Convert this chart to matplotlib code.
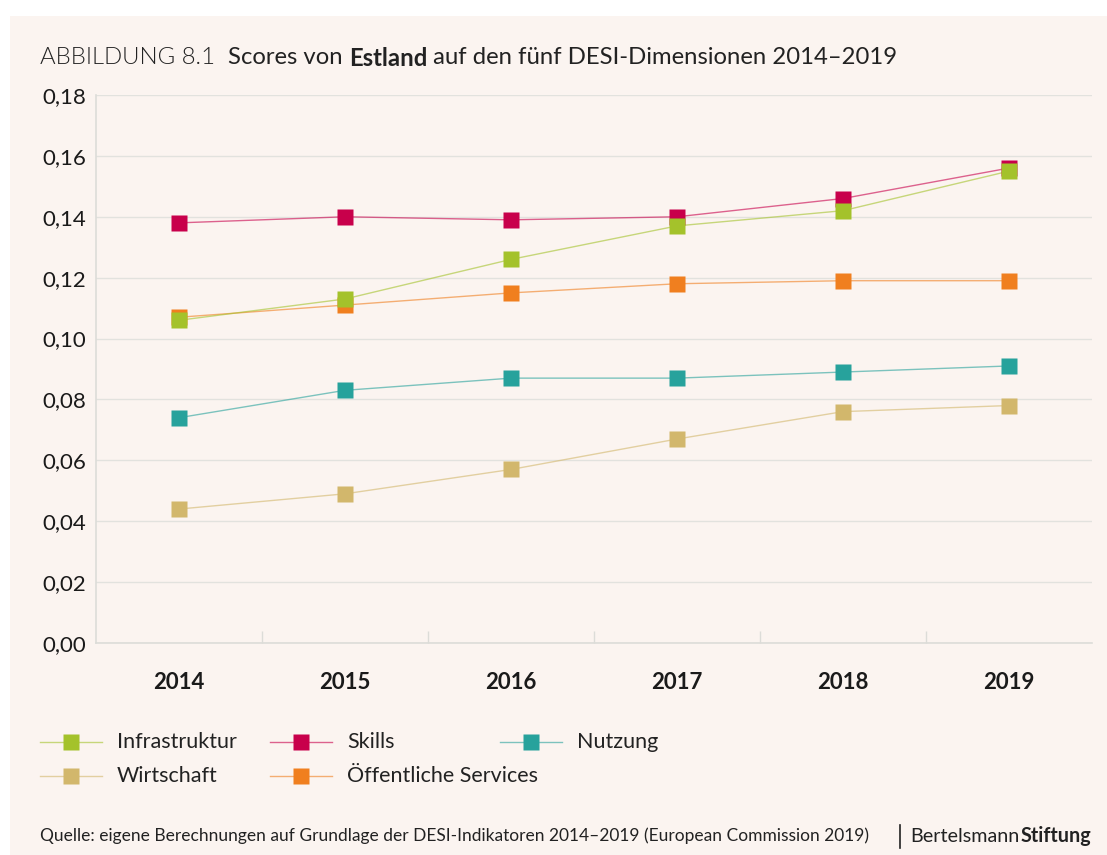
import matplotlib
matplotlib.use("Agg")
import matplotlib.pyplot as plt
from matplotlib.lines import Line2D
from matplotlib.patches import Rectangle
from matplotlib.ticker import FixedLocator, FuncFormatter

plt.rcParams['font.family'] = ['Lato', 'DejaVu Sans']

# data
years = ["2014", "2015", "2016", "2017", "2018", "2019"]
skills = [0.138, 0.140, 0.139, 0.140, 0.146, 0.156]
infrastruktur = [0.106, 0.113, 0.126, 0.137, 0.142, 0.155]
oeffentlich = [0.107, 0.111, 0.115, 0.118, 0.119, 0.119]
nutzung = [0.074, 0.083, 0.087, 0.087, 0.089, 0.091]
wirtschaft = [0.044, 0.049, 0.057, 0.067, 0.076, 0.078]

bg = '#fbf4f0'
c_green = '#a4c22b'
c_red = '#c8004b'
c_teal = '#27a29c'
c_tan = '#d2b76c'
c_orange = '#f07f1f'

fig = plt.figure(figsize=(11.07, 8.55), dpi=100)
fig.patch.set_facecolor('white')
fig.add_artist(Rectangle((10 / 1107, 0), 1, 1 - 16 / 855, transform=fig.transFigure,
                         facecolor=bg, edgecolor='none', zorder=-10))

ax = fig.add_axes([96 / 1107, 1 - 643 / 855, (1092 - 96) / 1107, (643 - 95) / 855])
ax.set_facecolor(bg)
x = list(range(len(years)))

# reihenfolge: unten zuerst
series = [
    ("Wirtschaft", wirtschaft, c_tan),
    ("Nutzung", nutzung, c_teal),
    ("Skills", skills, c_red),
    ("Öffentliche Services", oeffentlich, c_orange),
    ("Infrastruktur", infrastruktur, c_green),
]
for name, vals, col in series:
    ax.plot(x, vals, color=col, lw=1.0, alpha=0.6, zorder=2)
    ax.plot(x, vals, ls='none', marker='s', ms=11.5, color=col, mec='none', zorder=3)

ax.set_xlim(-0.5, 5.5)
ax.set_ylim(0, 0.18)
ax.yaxis.set_major_locator(FixedLocator([i * 0.02 for i in range(10)]))
ax.yaxis.set_major_formatter(FuncFormatter(lambda v, p: ("%.2f" % v).replace('.', ',')))
ax.set_xticks(x)
ax.set_xticklabels(years, fontsize=16, fontweight='bold', color='#1a1a1a')
ax.xaxis.set_minor_locator(FixedLocator([i + 0.5 for i in range(5)]))
ax.tick_params(axis='x', which='major', length=0, pad=21)
ax.tick_params(axis='x', which='minor', direction='in', length=9, color='#dcdcd8', width=1)
ax.tick_params(axis='y', length=0, pad=7, labelsize=16, labelcolor='#1a1a1a')
ax.grid(axis='y', color='#e2e2de', lw=1)
ax.set_axisbelow(True)
for s in ['top', 'right']:
    ax.spines[s].set_visible(False)
for s in ['left', 'bottom']:
    ax.spines[s].set_color('#dcdcd8')
    ax.spines[s].set_linewidth(1.2)

# titel aus mehreren teilen
fig.canvas.draw()
r = fig.canvas.get_renderer()
xpos = 40
parts = [("ABBILDUNG 8.1", 300, 17.2, 13), ("Scores von ", 'normal', 17.2, 0),
         ("Estland", 'bold', 17.2, 0),
         (" auf den fünf DESI-Dimensionen 2014–2019", 'normal', 17.2, 0)]
for txt, w, fs, gap in parts:
    t = fig.text(xpos / 1107, 1 - 58 / 855, txt, fontsize=fs, fontweight=w,
                 color='#222222', va='center', ha='left')
    bb = t.get_window_extent(renderer=r)
    xpos += bb.width + gap

# legende manuell
leg = [("Infrastruktur", c_green, 40, 742), ("Skills", c_red, 270, 742),
       ("Nutzung", c_teal, 500, 742), ("Wirtschaft", c_tan, 40, 776),
       ("Öffentliche Services", c_orange, 270, 776)]
for name, col, lx, ly in leg:
    yf = 1 - ly / 855
    fig.add_artist(Line2D([lx / 1107, (lx + 62) / 1107], [yf, yf], transform=fig.transFigure,
                          color=col, lw=1.0, alpha=0.6))
    fig.add_artist(Line2D([(lx + 31) / 1107], [yf], transform=fig.transFigure,
                          marker='s', ms=11.5, color=col, mec='none'))
    fig.text((lx + 77) / 1107, yf, name, fontsize=15.5, va='center', ha='left', color='#222222')

# quelle
fig.text(40 / 1107, 1 - 836 / 855,
         "Quelle: eigene Berechnungen auf Grundlage der DESI-Indikatoren 2014–2019 (European Commission 2019)",
         fontsize=12.5, va='center', ha='left', color='#222222')
fig.add_artist(Line2D([900 / 1107, 900 / 1107], [1 - 825 / 855, 1 - 848 / 855],
                      transform=fig.transFigure, color='#222222', lw=1.2))
t1 = fig.text(910 / 1107, 1 - 836 / 855, "Bertelsmann", fontsize=14.2, va='center', ha='left',
              color='#222222')
bb = t1.get_window_extent(renderer=r)
fig.text((910 + bb.width + 1) / 1107, 1 - 836 / 855, "Stiftung", fontsize=14.2, fontweight='bold',
         va='center', ha='left', color='#222222')

plt.savefig('out.png', dpi=100, facecolor=fig.get_facecolor())
